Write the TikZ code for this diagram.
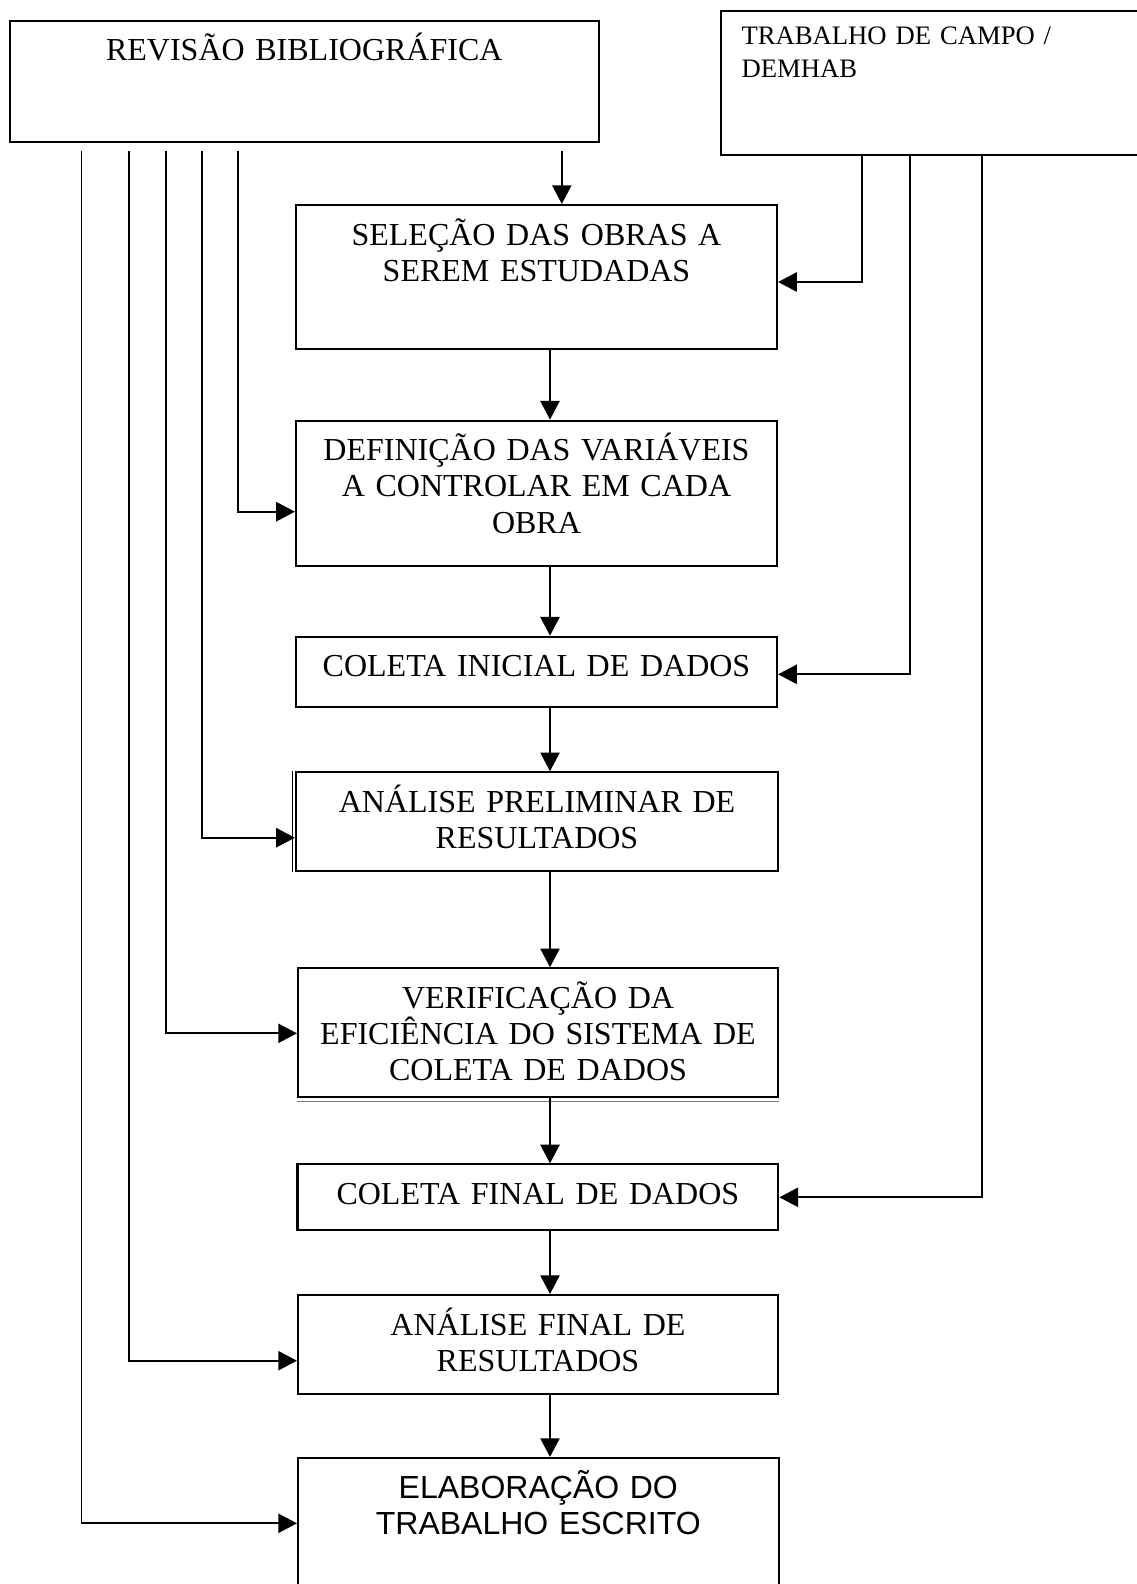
\documentclass[tikz,border=0pt]{standalone}
\usepackage{fontspec}
\setmainfont{Liberation Serif}
\newfontfamily\arialfont{Liberation Sans}
\usetikzlibrary{arrows.meta, positioning}

\begin{document}
\begin{tikzpicture}[x=0.375pt, y=-0.375pt,
    box/.style={draw, line width=0.8pt, inner sep=0pt},
    txt/.style={anchor=base, align=center, text width=190pt, inner sep=0pt,
      font=\fontsize{12}{13.6}\selectfont},
    arr/.style={line width=0.7pt, -{Triangle[length=7pt, width=7.2pt]}}]
      \useasboundingbox (0,0) rectangle (1136,1584);

      % Draw the boxes
      \node[box, minimum width=221pt, minimum height=45.4pt] (rev) at (304.3,81.2) {};
      \node[box, minimum width=161pt, minimum height=54pt] (trab) at (935.4,83) {};
      \node[box, minimum width=180.4pt, minimum height=54pt] (sel) at (536.5,277) {};
      \node[box, minimum width=180.4pt, minimum height=54.4pt] (def) at (536.5,493.2) {};
      \node[box, minimum width=180.4pt, minimum height=26.4pt] (ci) at (536.5,671.9) {};
      \node[box, minimum width=180.8pt, minimum height=36.9pt] (ap) at (537,821.5) {};
      \node[box, minimum width=180pt, minimum height=48.3pt] (ver) at (538,1032.7) {};
      \node[box, minimum width=180.3pt, minimum height=24.6pt] (cf) at (537.9,1197.2) {};
      \node[box, minimum width=180pt, minimum height=37.1pt] (af) at (538,1344.5) {};
      \node[box, minimum width=180.2pt, minimum height=57pt] (ela) at (538.3,1534) {};

      % Doubled edges
      \draw[line width=0.5pt] ([xshift=-0.9pt]ap.north west) -- ([xshift=-0.9pt]ap.south west);
      \draw[line width=0.5pt, gray] ([yshift=-1.2pt]ver.south west) -- ([yshift=-1.2pt]ver.south east);

      % Box texts
      \node[txt] (rev-t) at ([yshift=-15.4pt]rev.north) {REVISÃO BIBLIOGRÁFICA};
      \node[txt, anchor=base west, align=left, text width=150pt,
        font=\fontsize{10}{12.2}\selectfont] (trab-t) at ([xshift=8pt, yshift=-13pt]trab.north west)
        {TRABALHO DE CAMPO /\\DEMHAB};
      \node[txt] (sel-t) at ([yshift=-15.4pt]sel.north) {SELEÇÃO DAS OBRAS A\\SEREM ESTUDADAS};
      \node[txt] (def-t) at ([yshift=-15.4pt]def.north) {DEFINIÇÃO DAS VARIÁVEIS\\A CONTROLAR EM CADA\\OBRA};
      \node[txt] (ci-t) at ([yshift=-15.4pt]ci.north) {COLETA INICIAL DE DADOS};
      \node[txt] (ap-t) at ([yshift=-15.4pt]ap.north) {ANÁLISE PRELIMINAR DE\\RESULTADOS};
      \node[txt] (ver-t) at ([yshift=-15.4pt]ver.north) {VERIFICAÇÃO DA\\EFICIÊNCIA DO SISTEMA DE\\COLETA DE DADOS};
      \node[txt] (cf-t) at ([yshift=-15.4pt]cf.north) {COLETA FINAL DE DADOS};
      \node[txt] (af-t) at ([yshift=-15.4pt]af.north) {ANÁLISE FINAL DE\\RESULTADOS};
      \node[txt, font=\arialfont\fontsize{12}{13.75}\selectfont] (ela-t) at ([yshift=-15.5pt]ela.north)
        {ELABORAÇÃO DO\\TRABALHO ESCRITO};

      % Branches from the review box
      \coordinate (rtop) at (0,151);
      \coordinate (r0) at (561.8,151);
      \draw[arr] (r0) -- (r0 |- sel.north);

      \coordinate (l1) at (238,511.7);
      \coordinate (l2) at (202,837.7);
      \coordinate (l3) at (165.7,1033.3);
      \coordinate (l4) at (129.4,1360.7);
      \coordinate (l5) at (81.5,1523.3);
      \foreach \i/\b in {1/def, 2/ap, 3/ver, 4/af, 5/ela} {
        \draw[arr] (l\i |- rtop) -- (l\i) -- (l\i -| \b.west);
      }

      % Branches from the field work box
      \coordinate (t1) at (862,282);
      \coordinate (t2) at (910,674.3);
      \coordinate (t3) at (982,1197.3);
      \foreach \i/\b in {1/sel, 2/ci, 3/cf} {
        \draw[arr] (t\i |- trab.south) -- (t\i) -- (t\i -| \b.east);
      }

      % Main column
      \coordinate (spine) at (550,0);
      \foreach \a/\b in {sel/def, def/ci, ci/ap, ap/ver, ver/cf, cf/af, af/ela} {
        \draw[arr] (\a.south -| spine) -- (\b.north -| spine);
      }

\end{tikzpicture}
\end{document}
